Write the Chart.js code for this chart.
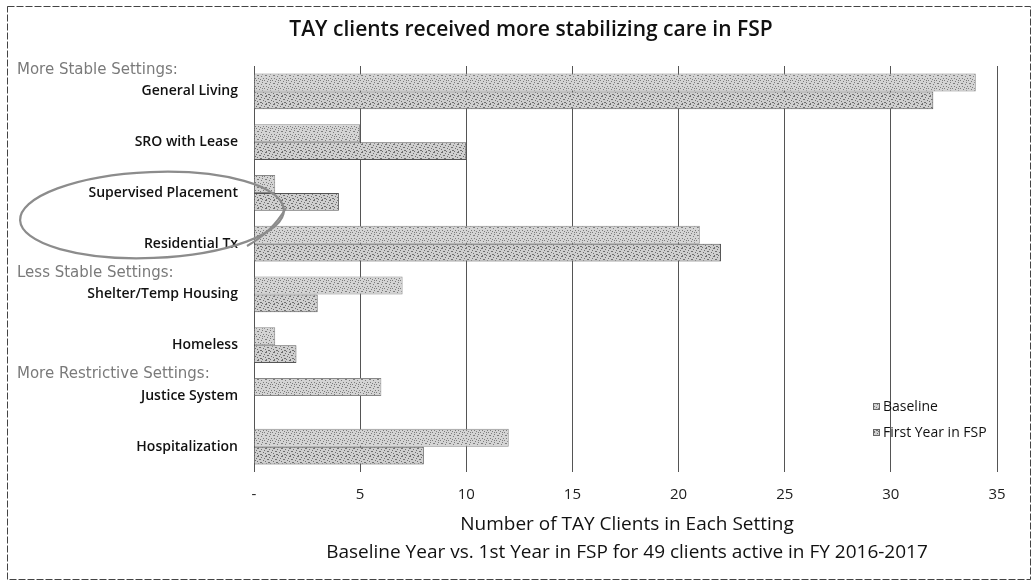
<!DOCTYPE html>
<html>
<head>
<meta charset="utf-8">
<script src="https://cdn.jsdelivr.net/npm/chart.js@4/dist/chart.umd.min.js"></script>
<style>
  html, body { margin: 0; padding: 0; background: #fff; }
  #wrap { position: relative; width: 1033px; height: 582px; }
</style>
</head>
<body>
<div id="wrap"><canvas id="myChart" width="1033" height="582"></canvas></div>
<script>
// data
const categories = ["General Living", "SRO with Lease", "Supervised Placement", "Residential Tx",
  "Shelter/Temp Housing", "Homeless", "Justice System", "Hospitalization"];
const baseline = [34, 5, 1, 21, 7, 1, 6, 12];
const firstYear = [32, 10, 4, 22, 3, 2, 0, 8];
const seriesNames = ["Baseline", "First Year in FSP"];
const xTickLabels = ["-", "5", "10", "15", "20", "25", "30", "35"];
// group headings sit above the category with this index
const groupHeads = [
  { before: 0, text: "More Stable Settings:" },
  { before: 4, text: "Less Stable Settings:" },
  { before: 6, text: "More Restrictive Settings:" },
];
const chartTitle = "TAY clients received more stabilizing care in FSP";
const axisTitle = "Number of TAY Clients in Each Setting";
const axisSubtitle = "Baseline Year vs. 1st Year in FSP for 49 clients active in FY 2016-2017";

const FONT = "'Open Sans', 'Noto Sans', sans-serif";

// stippled grey fill like the printed bars
function stipple(base, dark, dots) {
  const c = document.createElement("canvas");
  c.width = 8; c.height = 8;
  const g = c.getContext("2d");
  g.fillStyle = base;
  g.fillRect(0, 0, 8, 8);
  g.fillStyle = dark;
  for (const d of dots) g.fillRect(d[0], d[1], d[2] || 1, 1);
  return g.createPattern(c, "repeat");
}
const basePat = stipple("#d4d4d4", "#7c7c7c", [[0,0],[3,1],[6,2],[1,3,2],[5,4],[2,6],[7,6],[4,7],[6,0]]);
const fsPat = stipple("#cfcfcf", "#6e6e6e", [[1,0,2],[5,1],[0,2],[3,3,2],[7,4],[1,5],[4,6,2],[6,7],[2,7]]);

// titles, headings, annotation ring, legend and frame
const extras = {
  id: "extras",
  afterDraw(chart) {
    const ctx = chart.ctx;
    const y = chart.scales.y;
    ctx.save();

    // frame
    ctx.strokeStyle = "#444";
    ctx.lineWidth = 1;
    ctx.setLineDash([7, 2]);
    ctx.strokeRect(7.5, 6.5, 1023, 573);
    ctx.setLineDash([]);

    ctx.fillStyle = "#111";
    ctx.textAlign = "center";
    ctx.textBaseline = "middle";
    ctx.font = "600 21px " + FONT;
    ctx.fillText(chartTitle, 531, 30);

    ctx.font = "500 19px " + FONT;
    ctx.fillText(axisTitle, 627, 525);
    ctx.font = "400 19px " + FONT;
    ctx.fillText(axisSubtitle, 627, 553);

    // group headings
    ctx.textAlign = "left";
    ctx.fillStyle = "#7a7a7a";
    ctx.font = "15px 'DejaVu Sans', sans-serif";
    const pitch = y.getPixelForValue(1) - y.getPixelForValue(0);
    for (const h of groupHeads) {
      ctx.fillText(h.text, 17, y.getPixelForValue(h.before) - pitch * 0.42);
    }

    // hand drawn ring round two labels
    ctx.strokeStyle = "#8c8c8c";
    ctx.lineWidth = 2.2;
    ctx.beginPath();
    ctx.ellipse(152, 215, 132, 43, -0.04, 0, Math.PI * 2);
    ctx.stroke();
    ctx.beginPath();
    ctx.moveTo(286, 208);
    ctx.quadraticCurveTo(272, 232, 247, 246);
    ctx.stroke();

    // legend
    ctx.font = "14px " + FONT;
    const pats = [basePat, fsPat];
    seriesNames.forEach((name, i) => {
      const ly = 407 + i * 26;
      ctx.fillStyle = pats[i];
      ctx.fillRect(873, ly - 4, 7, 7);
      ctx.strokeStyle = "#666";
      ctx.lineWidth = 1;
      ctx.strokeRect(873.5, ly - 3.5, 6, 6);
      ctx.fillStyle = "#111";
      ctx.fillText(name, 883, ly);
    });
    ctx.restore();
  }
};

const ctx = document.getElementById("myChart").getContext("2d");
new Chart(ctx, {
  type: "bar",
  data: {
    labels: categories,
    datasets: [
      {
        label: seriesNames[0],
        data: baseline,
        backgroundColor: basePat,
        borderColor: "#888",
        borderWidth: 1,
        borderSkipped: "start",
      },
      {
        label: seriesNames[1],
        data: firstYear,
        backgroundColor: fsPat,
        borderColor: "#555",
        borderWidth: 1,
        borderSkipped: "start",
      },
    ],
  },
  options: {
    indexAxis: "y",
    responsive: false,
    animation: false,
    layout: { padding: { left: 0, top: 66, right: 36, bottom: 0 } },
    datasets: { bar: { categoryPercentage: 0.7, barPercentage: 1.0 } },
    plugins: {
      legend: { display: false },
      tooltip: { enabled: false },
    },
    scales: {
      x: {
        min: 0,
        max: 35,
        afterFit(scale) { scale.height = 110; },
        border: { display: false },
        grid: { color: "#555", lineWidth: 1, drawTicks: false },
        ticks: {
          stepSize: 5,
          padding: 14,
          color: "#222",
          font: { family: FONT, size: 15 },
          callback: (v, i) => xTickLabels[i],
        },
      },
      y: {
        afterFit(scale) { scale.width = 254; },
        border: { display: false },
        grid: { display: false },
        ticks: {
          padding: 8,
          color: "#111",
          font: { family: FONT, size: 14, weight: "600" },
        },
      },
    },
  },
  plugins: [extras],
});
</script>
</body>
</html>
